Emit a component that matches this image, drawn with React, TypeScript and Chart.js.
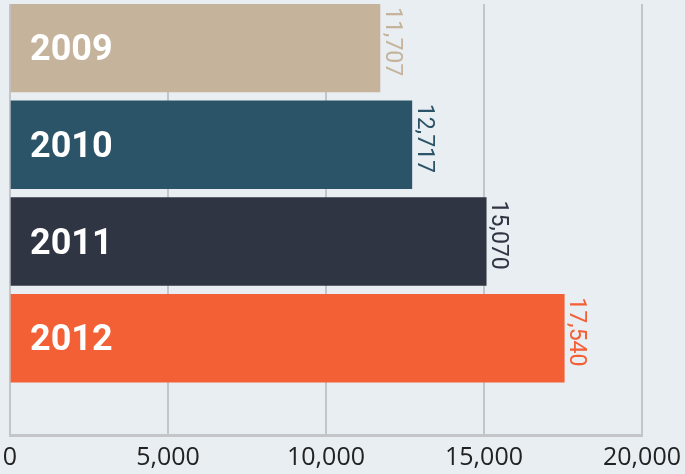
import React, { useEffect, useRef } from "react";
import { Chart, registerables } from "chart.js";

Chart.register(...registerables);

const years = ["2009", "2010", "2011", "2012"];
const values = [11707, 12717, 15070, 17540];
const colors = ["#c5b49b", "#2b5468", "#2f3542", "#f46036"];
const xTicks = [0, 5000, 10000, 15000, 20000];

const BG = "#e9eef3";
const GRID = "#c3c5c9";

const labelPlugin = {
  id: "barLabels",
  afterDatasetsDraw(chart: any) {
    const ctx = chart.ctx;
    const meta = chart.getDatasetMeta(0);
    meta.data.forEach((bar: any, i: number) => {
      const top = bar.y - bar.height / 2;
      // value label, rotated
      ctx.save();
      ctx.translate(bar.x + 6, top + 3);
      ctx.rotate(Math.PI / 2);
      ctx.font = "400 23px Roboto";
      ctx.fillStyle = colors[i];
      ctx.textAlign = "left";
      ctx.textBaseline = "alphabetic";
      ctx.fillText(values[i].toLocaleString("en-US"), 0, 0);
      ctx.restore();
      // year label
      ctx.save();
      ctx.font = "bold 36px Roboto";
      ctx.fillStyle = "#ffffff";
      ctx.textAlign = "left";
      ctx.textBaseline = "alphabetic";
      ctx.fillText(years[i], chart.scales.x.getPixelForValue(0) + 20, bar.y + 12);
      ctx.restore();
    });
  },
};

export default function App() {
  const ref = useRef<HTMLCanvasElement>(null);
  useEffect(() => {
    document.body.style.margin = "0";
    document.body.style.background = BG;
    const chart = new Chart(ref.current!, {
      type: "bar",
      data: {
        datasets: [
          {
            data: values.map((v, i) => ({ x: v, y: i })) as any,
            backgroundColor: colors,
            barThickness: 88,
            borderWidth: 0,
          },
        ],
      },
      options: {
        indexAxis: "y",
        animation: false,
        responsive: false,
        maintainAspectRatio: false,
        layout: { padding: { left: 10, right: 43, top: 4, bottom: 0 } },
        plugins: { legend: { display: false }, tooltip: { enabled: false } },
        scales: {
          x: {
            type: "linear",
            min: xTicks[0],
            max: xTicks[xTicks.length - 1],
            afterBuildTicks: (scale: any) => {
              scale.ticks = xTicks.map((v) => ({ value: v }));
            },
            afterFit: (scale: any) => {
              scale.height = 39;
              scale.paddingLeft = 0;
              scale.paddingRight = 0;
            },
            grid: { color: GRID, lineWidth: 2, drawTicks: false },
            border: { display: true, color: GRID, width: 3 },
            ticks: {
              padding: 8,
              color: "#222222",
              font: { family: "'Open Sans'", size: 25 },
              maxRotation: 0,
              callback: (v: any) => Number(v).toLocaleString("en-US"),
            },
          },
          y: {
            type: "linear",
            reverse: true,
            offset: false,
            min: -0.455,
            max: 4,
            display: false,
            grid: { display: false, offset: false },
          },
        },
      },
      plugins: [labelPlugin],
    });
    return () => chart.destroy();
  }, []);
  return (
    <div style={{ width: 685, height: 474, background: BG }}>
      <canvas ref={ref} width={685} height={474} style={{ display: "block" }} />
    </div>
  );
}
